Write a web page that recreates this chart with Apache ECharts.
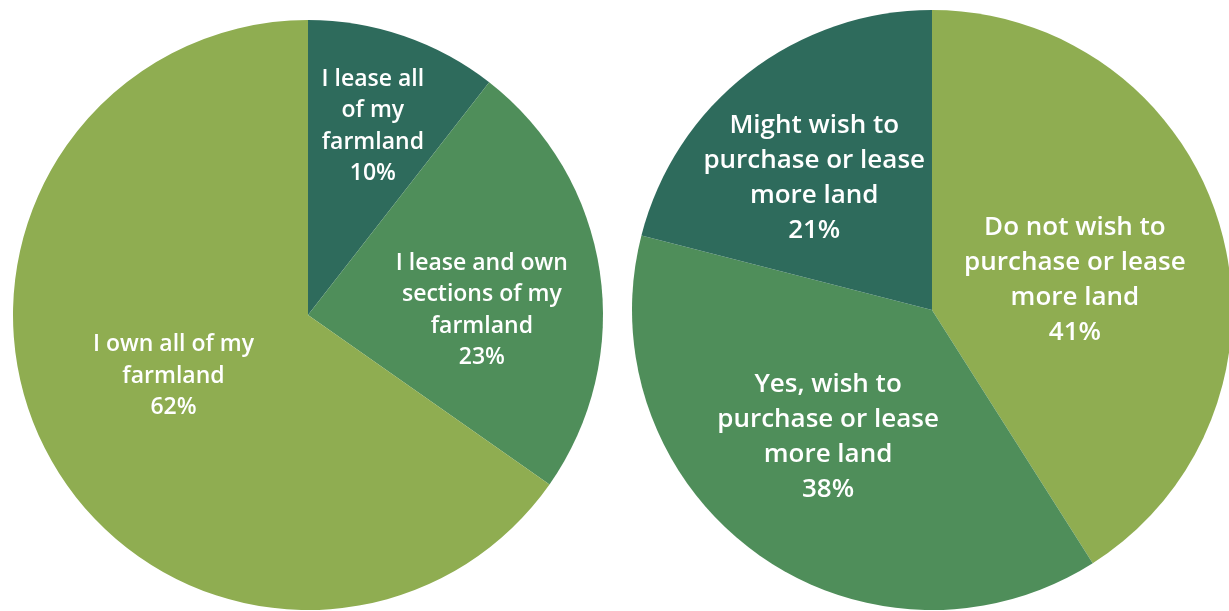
<!DOCTYPE html>
<html>
<head>
<meta charset="utf-8">
<script src="https://cdn.jsdelivr.net/npm/echarts@6/dist/echarts.min.js"></script>
<style>
  html, body { margin: 0; padding: 0; background: #ffffff; }
  #chart { width: 1229px; height: 611px; }
</style>
</head>
<body>
<div id="chart"></div>
<script>
// Land tenure: share of respondents (clockwise from 12 o'clock)
const tenureNames = [
  'I lease all\nof my\nfarmland',
  'I lease and own\nsections of my\nfarmland',
  'I own all of my\nfarmland'
];
const tenureValues = [10, 23, 62];

// Interest in acquiring more land (clockwise from 12 o'clock)
const expansionNames = [
  'Do not wish to\npurchase or lease\nmore land',
  'Yes, wish to\npurchase or lease\nmore land',
  'Might wish to\npurchase or lease\nmore land'
];
const expansionValues = [41, 38, 21];

// Slice colours
const tenureColors = ['#2e6b5c', '#4f8e5a', '#8fad51'];
const expansionColors = ['#8fad51', '#4f8e5a', '#2e6b5c'];

// Label nudges from the default in-slice anchor, per slice
const tenureNudge = [[16, -46], [25, 18], [-1, -8]];
const expansionNudge = [[-4, 13], [-14, 3], [-24, -11]];

function buildData(names, values, colors) {
  return names.map((n, i) => ({
    name: n,
    value: values[i],
    itemStyle: { color: colors[i] }
  }));
}

function pieSeries(names, values, colors, nudge, center, radius, fontSize, lineHeight) {
  return {
    type: 'pie',
    center: center,
    radius: radius,
    startAngle: 90,
    clockwise: true,
    silent: true,
    avoidLabelOverlap: false,
    itemStyle: { borderWidth: 0 },
    emphasis: { disabled: true },
    label: {
      show: true,
      position: 'inside',
      formatter: '{b}\n{c}%',
      color: '#ffffff',
      fontFamily: 'Open Sans',
      fontWeight: 600,
      fontSize: fontSize,
      lineHeight: lineHeight,
      align: 'center'
    },
    labelLine: { show: false },
    labelLayout: function (p) {
      const d = nudge[p.dataIndex];
      return { dx: d[0], dy: d[1] };
    },
    data: buildData(names, values, colors)
  };
}

const chart = echarts.init(document.getElementById('chart'), null, { renderer: 'canvas' });
chart.setOption({
  animation: false,
  backgroundColor: '#ffffff',
  series: [
    pieSeries(tenureNames, tenureValues, tenureColors, tenureNudge, [308, 315], 295, 23, 31.5),
    pieSeries(expansionNames, expansionValues, expansionColors, expansionNudge, [932, 310], 300, 26, 35)
  ]
});
</script>
</body>
</html>
